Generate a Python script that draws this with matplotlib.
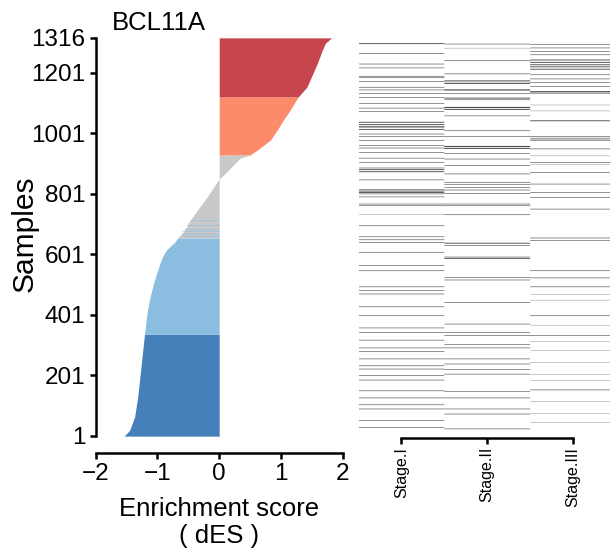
import numpy as np
import matplotlib.pyplot as plt

plt.rcParams['font.family'] = ['Liberation Sans', 'DejaVu Sans']

# sorted enrichment score (dES) along the sample ranks
rank = [0.5, 20, 64, 130, 241, 337.5, 406, 460, 515, 571, 593, 614, 626, 641, 655.5,
        670, 691, 704, 737, 790, 823, 850, 873, 903, 919, 929.5, 946, 979, 1012,
        1045, 1078, 1121.5, 1154, 1200, 1233, 1276, 1299, 1316.5]
des = [-1.54, -1.45, -1.37, -1.32, -1.26, -1.21, -1.17, -1.12, -1.05, -0.96, -0.92, -0.86, -0.80, -0.72, -0.67,
       -0.60, -0.53, -0.50, -0.39, -0.20, -0.09, 0.0, 0.12, 0.26, 0.34, 0.50, 0.62, 0.83, 0.94,
       1.04, 1.15, 1.28, 1.42, 1.52, 1.59, 1.67, 1.72, 1.82]

group_edges = [0.5, 337.5, 655.5, 929.5, 1121.5, 1316.5]
group_colors = ['#4580ba', '#8abddf', '#c9c9c9', '#fc8b6c', '#c6444b']

# light blue samples sitting among the grey ones
mixed_rank = [661, 668, 676, 684, 697, 712]
mixed_des = [-0.64, -0.61, -0.59, -0.56, -0.52, -0.47]

yticks = [1, 201, 401, 601, 801, 1001, 1201, 1316]

stages = ['Stage.I', 'Stage.II', 'Stage.III']

# (first, last) sample of each marked run, per stage
stage1_runs = [(1300, 1302), (1268, 1269), (1232, 1233), (1219, 1220), (1186, 1187), (1191, 1192),
               (1174, 1175), (1154, 1155), (1145, 1146), (1133, 1134), (1120, 1121), (1100, 1101),
               (1084, 1085), (1073, 1074), (1036, 1038), (1028, 1030), (1020, 1023), (1012, 1014),
               (997, 998), (988, 989), (975, 976), (958, 959), (950, 951), (935, 936), (916, 917),
               (902, 903), (870, 872), (877, 879), (883, 884), (843, 844), (796, 797), (800, 802),
               (805, 807), (810, 811), (786, 787), (757, 758), (762, 763), (728, 728), (689, 690),
               (652, 653), (642, 643), (633, 634), (600, 601), (555, 556), (538, 539), (484, 485),
               (471, 472), (460, 461), (417, 418), (387, 388), (346, 347), (331, 332), (305, 306),
               (279, 280), (267, 268), (242, 243), (219, 220), (208, 209), (186, 187), (171, 172),
               (135, 136), (111, 112), (88, 89), (74, 75), (35, 36), (12, 13)]
stage2_runs = [(1299, 1300), (1286, 1286), (1243, 1244), (1199, 1200), (1166, 1168), (1172, 1173),
               (1176, 1177), (1144, 1147), (1133, 1134), (1112, 1113), (1117, 1119), (1079, 1081),
               (1085, 1088), (1058, 1059), (1008, 1009), (988, 989), (948, 950), (954, 957),
               (932, 933), (913, 914), (891, 892), (863, 864), (835, 836), (827, 828), (818, 819),
               (809, 810), (798, 799), (757, 758), (762, 763), (726, 727), (623, 624), (630, 632),
               (579, 581), (584, 585), (516, 517), (507, 508), (432, 433), (359, 360), (331, 332),
               (320, 321), (290, 291), (279, 280), (242, 243), (225, 226), (206, 207), (191, 192),
               (133, 134), (111, 112), (74, 75), (57, 58), (7, 8)]
stage3_runs = [(1297, 1298), (1286, 1287), (1274, 1275), (1263, 1264), (1245, 1247), (1237, 1239),
               (1229, 1231), (1222, 1224), (1214, 1216), (1196, 1197), (1182, 1183), (1170, 1171),
               (1156, 1157), (1134, 1136), (1139, 1141), (1095, 1095), (1075, 1075), (1041, 1043),
               (976, 978), (983, 984), (989, 990), (947, 948), (924, 924), (896, 896), (902, 903),
               (868, 869), (829, 830), (801, 802), (784, 785), (745, 746), (648, 649), (639, 640),
               (538, 539), (514, 515), (484, 485), (458, 458), (440, 440), (387, 388), (356, 356),
               (320, 321), (300, 300), (270, 270), (230, 230), (190, 190), (170, 170), (138, 139),
               (100, 100), (60, 60), (30, 30)]

W, H = 610, 553
fig = plt.figure(figsize=(W / 100, H / 100), dpi=100)

# waterfall of scores
ax = fig.add_axes([95.7 / W, (H - 436) / H, 247 / W, 398 / H])
rank = np.array(rank)
des = np.array(des)
for lo, hi, c in zip(group_edges[:-1], group_edges[1:], group_colors):
    m = (rank >= lo) & (rank <= hi)
    ax.fill_betweenx(rank[m], 0, des[m], color=c, lw=0)
ax.barh(mixed_rank, mixed_des, height=2, color=group_colors[1], lw=0, snap=False)

ax.set_xlim(-2, 2)
ax.set_ylim(1, 1316)
ax.set_xticks([-2, -1, 0, 1, 2])
ax.set_yticks(yticks)
for s in ['top', 'right']:
    ax.spines[s].set_visible(False)
ax.spines['left'].set_bounds(1, 1316)
ax.spines['bottom'].set_bounds(-2, 2)
ax.spines['bottom'].set_position(('outward', 12))
for s in ['left', 'bottom']:
    ax.spines[s].set_linewidth(1.8)
ax.tick_params(width=1.8, length=4.5, labelsize=17.5, pad=3)

fig.text(112 / W, (H - 30) / H, 'BCL11A', fontsize=18.5, va='baseline')
fig.text(25 / W, (H - 234) / H, 'Samples', fontsize=21.5, rotation=90, ha='center', va='center')
fig.text(219 / W, (H - 516.5) / H, 'Enrichment score', fontsize=18.5, ha='center', va='baseline')
fig.text(219 / W, (H - 543) / H, '( dES )', fontsize=18.5, ha='center', va='baseline')

# stage membership strips
ax2 = fig.add_axes([358.5 / W, (H - 431) / H, 257.5 / W, 392 / H])
for i, runs in enumerate([stage1_runs, stage2_runs, stage3_runs]):
    starts = [a - 0.5 for a, b in runs]
    heights = [b - a + 1 for a, b in runs]
    ax2.barh(starts, [1] * len(runs), left=i + 0.5, height=heights, align='edge',
             color='0.3', lw=0, snap=False)
ax2.set_xlim(0.5, 3.5)
ax2.set_ylim(0.5, 1316.5)
ax2.set_xticks([1, 2, 3])
ax2.set_xticklabels(stages)
ax2.set_yticks([])
for s in ['top', 'right', 'left']:
    ax2.spines[s].set_visible(False)
ax2.spines['bottom'].set_bounds(1, 3)
ax2.spines['bottom'].set_position(('outward', 5))
ax2.spines['bottom'].set_linewidth(1.8)
ax2.tick_params(axis='x', width=1.8, length=4.5, pad=2, labelsize=11.5, labelrotation=90)

fig.savefig('out.png', dpi=100)
